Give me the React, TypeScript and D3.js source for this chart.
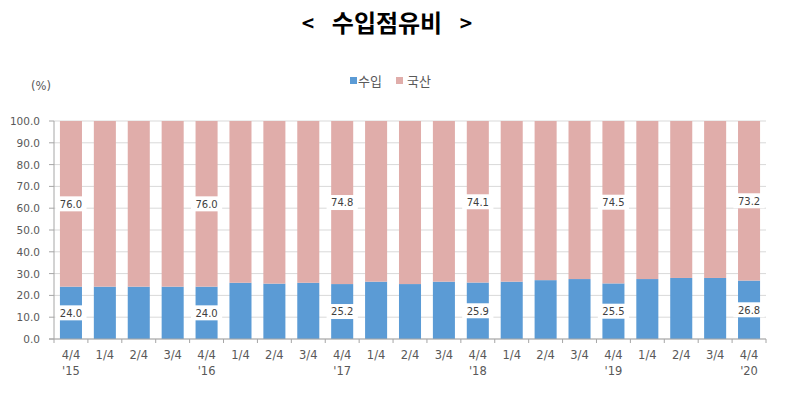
import React from "react";
import * as d3 from "d3";

const quarters = ["4/4","1/4","2/4","3/4","4/4","1/4","2/4","3/4","4/4","1/4","2/4","3/4","4/4","1/4","2/4","3/4","4/4","1/4","2/4","3/4","4/4"];
const years = ["'15","","","","'16","","","","'17","","","","'18","","","","'19","","","","'20"];
const importShare = [24.0, 24.0, 24.0, 24.0, 24.0, 25.8, 25.4, 25.8, 25.2, 26.3, 25.2, 26.3, 25.9, 26.3, 27.0, 27.5, 25.5, 27.5, 28.0, 28.0, 26.8];
const domesticShare = [76.0, 76.0, 76.0, 76.0, 76.0, 74.2, 74.6, 74.2, 74.8, 73.7, 74.8, 73.7, 74.1, 73.7, 73.0, 72.5, 74.5, 72.5, 72.0, 72.0, 73.2];
const yTicks = [0, 10, 20, 30, 40, 50, 60, 70, 80, 90, 100];
const seriesNames = ["수입", "국산"];

const W = 787;
const H = 394;
const BLUE = "#5B9BD5";
const PINK = "#E0ADAA";
const GRAY = "#595959";
const NUM_FONT = "DejaVu Sans";
const KR_FONT = "Noto Sans CJK KR";

export default function App() {
  const margin = { left: 54, right: 21, top: 121, bottom: 55 };
  const idx = quarters.map((_, i) => i);

  const x = d3
    .scaleBand<number>()
    .domain(idx)
    .range([margin.left, W - margin.right])
    .paddingInner(0.35)
    .paddingOuter(0.175);

  const y = d3.scaleLinear().domain([0, 100]).range([H - margin.bottom, margin.top]);
  const step = x.step();
  const x0 = margin.left;
  const x1 = W - margin.right;

  const labelled = idx.filter((i) => quarters[i] === "4/4");

  const labelBox = (cx: number, cy: number, txt: string) => {
    const w = txt.length * 5.8 + 8;
    return (
      <g key={`${cx}-${cy}`}>
        <rect x={cx - w / 2} y={cy - 7.5} width={w} height={15} fill="#fff" />
        <text
          x={cx}
          y={cy + 3.8}
          textAnchor="middle"
          fontFamily={NUM_FONT}
          fontSize={10}
          fill="#404040"
        >
          {txt}
        </text>
      </g>
    );
  };

  return (
    <svg
      width={W}
      height={H}
      style={{ position: "absolute", left: 0, top: 0, background: "#fff" }}
    >
      {/* title */}
      <g fontFamily={KR_FONT} fontWeight="bold" fill="#000">
        <text x={308} y={31} textAnchor="middle" fontSize={21}>{"<"}</text>
        <text x={387} y={32} textAnchor="middle" fontSize={24}>수입점유비</text>
        <text x={466} y={31} textAnchor="middle" fontSize={21}>{">"}</text>
      </g>

      {/* unit */}
      <text x={31} y={90} fontFamily={NUM_FONT} fontSize={11.5} fill={GRAY}>
        (%)
      </text>

      {/* legend */}
      <rect x={350} y={77} width={7} height={7} fill={BLUE} />
      <text x={358} y={85.5} fontFamily={KR_FONT} fontSize={13} fill={GRAY}>
        {seriesNames[0]}
      </text>
      <rect x={396} y={77} width={7} height={7} fill={PINK} />
      <text x={407} y={85.5} fontFamily={KR_FONT} fontSize={13} fill={GRAY}>
        {seriesNames[1]}
      </text>

      {/* grid */}
      {yTicks.map((t) => (
        <line
          key={`g${t}`}
          x1={x0}
          x2={x1}
          y1={y(t)}
          y2={y(t)}
          stroke="#D9D9D9"
          strokeWidth={1}
        />
      ))}

      {/* bars */}
      {idx.map((i) => (
        <g key={`b${i}`}>
          <rect
            x={x(i)}
            y={y(importShare[i])}
            width={x.bandwidth()}
            height={y(0) - y(importShare[i])}
            fill={BLUE}
          />
          <rect
            x={x(i)}
            y={y(importShare[i] + domesticShare[i])}
            width={x.bandwidth()}
            height={y(importShare[i]) - y(importShare[i] + domesticShare[i])}
            fill={PINK}
          />
        </g>
      ))}

      {/* data labels */}
      {labelled.map((i) => {
        const cx = (x(i) as number) + x.bandwidth() / 2;
        return (
          <g key={`l${i}`}>
            {labelBox(cx, y(importShare[i] / 2), importShare[i].toFixed(1))}
            {labelBox(
              cx,
              y(importShare[i] + domesticShare[i] / 2),
              domesticShare[i].toFixed(1)
            )}
          </g>
        );
      })}

      {/* y axis */}
      <line x1={x0} x2={x0} y1={y(100)} y2={y(0)} stroke="#A6A6A6" />
      {yTicks.map((t) => (
        <g key={`yt${t}`}>
          <line x1={x0 - 5} x2={x0} y1={y(t)} y2={y(t)} stroke="#A6A6A6" />
          <text
            x={x0 - 14}
            y={y(t) + 4}
            textAnchor="end"
            fontFamily={NUM_FONT}
            fontSize={10.5}
            fill={GRAY}
          >
            {t.toFixed(1)}
          </text>
        </g>
      ))}

      {/* x axis */}
      <line x1={x0 - 5} x2={x1} y1={y(0)} y2={y(0)} stroke="#A6A6A6" />
      {d3.range(quarters.length + 1).map((k) => (
        <line
          key={`xt${k}`}
          x1={x0 + k * step}
          x2={x0 + k * step}
          y1={y(0)}
          y2={y(0) + 4}
          stroke="#A6A6A6"
        />
      ))}
      {idx.map((i) => {
        const cx = (x(i) as number) + x.bandwidth() / 2;
        return (
          <g key={`xl${i}`}>
            <text
              x={cx}
              y={y(0) + 20}
              textAnchor="middle"
              fontFamily={NUM_FONT}
              fontSize={11.5}
              fill={GRAY}
            >
              {quarters[i]}
            </text>
            {years[i] && (
              <text
                x={cx}
                y={y(0) + 36}
                textAnchor="middle"
                fontFamily={NUM_FONT}
                fontSize={11.5}
                fill={GRAY}
              >
                {years[i]}
              </text>
            )}
          </g>
        );
      })}
    </svg>
  );
}
